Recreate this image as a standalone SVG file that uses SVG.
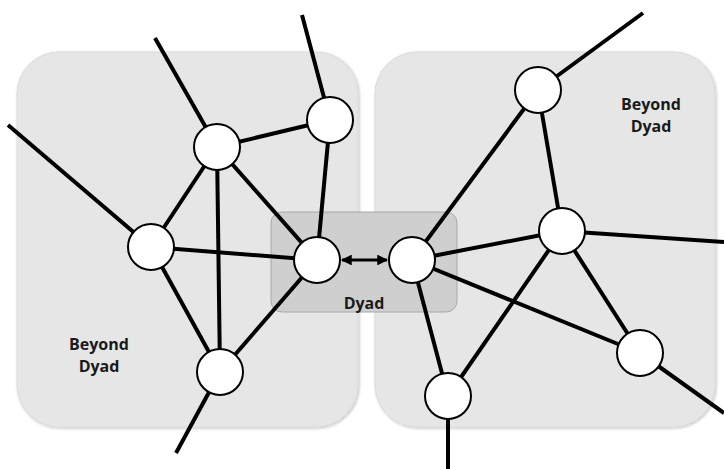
<svg xmlns="http://www.w3.org/2000/svg" width="724" height="469" viewBox="0 0 724 469">
<defs>
<marker id="ah" viewBox="0 0 10 10" refX="9" refY="5" markerWidth="3.6" markerHeight="3.6" orient="auto-start-reverse" markerUnits="strokeWidth">
<path d="M0,0 L10,5 L0,10 Z" fill="#000"/>
</marker>
<filter id="sh" x="-5%" y="-5%" width="110%" height="110%">
<feGaussianBlur in="SourceAlpha" stdDeviation="1.5"/>
<feOffset dx="1" dy="1"/>
<feComponentTransfer><feFuncA type="linear" slope="0.25"/></feComponentTransfer>
<feMerge><feMergeNode/><feMergeNode in="SourceGraphic"/></feMerge>
</filter>
</defs>
<style>
.panel{fill:#e6e6e6;stroke:#dadada;stroke-width:1}
.dyad{fill:#d0cfd0;stroke:#a8a8a8;stroke-width:1}
.edge{stroke:#000;stroke-width:4;fill:none;stroke-linecap:butt}
.node circle{fill:#fff;stroke:#000;stroke-width:2}
.lbl{font-family:"Open Sans","Liberation Sans",sans-serif;font-weight:bold;font-size:16px;fill:#1a1a1a;text-anchor:middle}
</style>
<rect id="panel-left" class="panel" x="17" y="52" width="341" height="375" rx="42" filter="url(#sh)"/>
<rect id="panel-right" class="panel" x="375" y="52" width="340" height="375" rx="42" filter="url(#sh)"/>
<rect id="dyad-box" class="dyad" x="271" y="212" width="186" height="100" rx="11"/>
<text class="lbl" x="364" y="309">Dyad</text>
<text class="lbl" x="651" y="110">Beyond</text>
<text class="lbl" x="651" y="132">Dyad</text>
<text class="lbl" x="99" y="350">Beyond</text>
<text class="lbl" x="99" y="372">Dyad</text>
<g id="connectors">
<line class="edge" x1="217" y1="147" x2="155" y2="38"/>
<line class="edge" x1="330" y1="120" x2="302" y2="15"/>
<line class="edge" x1="151" y1="247" x2="8" y2="125"/>
<line class="edge" x1="220" y1="372" x2="176" y2="453"/>
<line class="edge" x1="217" y1="147" x2="330" y2="120"/>
<line class="edge" x1="217" y1="147" x2="151" y2="247"/>
<line class="edge" x1="217" y1="147" x2="317" y2="260"/>
<line class="edge" x1="217" y1="147" x2="220" y2="372"/>
<line class="edge" x1="330" y1="120" x2="317" y2="260"/>
<line class="edge" x1="151" y1="247" x2="317" y2="260"/>
<line class="edge" x1="151" y1="247" x2="220" y2="372"/>
<line class="edge" x1="220" y1="372" x2="317" y2="260"/>
<line class="edge" x1="538" y1="90" x2="643" y2="13"/>
<line class="edge" x1="562" y1="231" x2="724" y2="242"/>
<line class="edge" x1="640" y1="353" x2="724" y2="413"/>
<line class="edge" x1="448" y1="396" x2="448" y2="469"/>
<line class="edge" x1="538" y1="90" x2="412" y2="260"/>
<line class="edge" x1="538" y1="90" x2="562" y2="231"/>
<line class="edge" x1="562" y1="231" x2="412" y2="260"/>
<line class="edge" x1="562" y1="231" x2="448" y2="396"/>
<line class="edge" x1="562" y1="231" x2="640" y2="353"/>
<line class="edge" x1="412" y1="260" x2="640" y2="353"/>
<line class="edge" x1="412" y1="260" x2="448" y2="396"/>
<line id="dyad-link" x1="342" y1="260" x2="387" y2="260" stroke="#000" stroke-width="3" marker-start="url(#ah)" marker-end="url(#ah)"/>
</g>
<g id="node-l1" class="node"><circle cx="217" cy="147" r="23"/></g>
<g id="node-l2" class="node"><circle cx="330" cy="120" r="23"/></g>
<g id="node-l3" class="node"><circle cx="151" cy="247" r="23"/></g>
<g id="node-l4" class="node"><circle cx="317" cy="260" r="23"/></g>
<g id="node-l5" class="node"><circle cx="220" cy="372" r="23"/></g>
<g id="node-r1" class="node"><circle cx="538" cy="90" r="23"/></g>
<g id="node-r2" class="node"><circle cx="562" cy="231" r="23"/></g>
<g id="node-r3" class="node"><circle cx="412" cy="260" r="23"/></g>
<g id="node-r4" class="node"><circle cx="640" cy="353" r="23"/></g>
<g id="node-r5" class="node"><circle cx="448" cy="396" r="23"/></g>
</svg>
